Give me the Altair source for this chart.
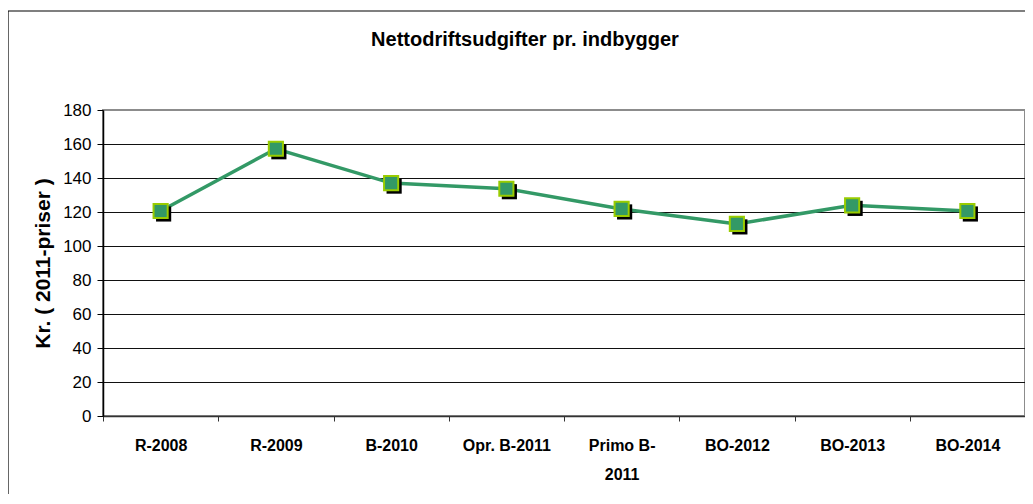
import altair as alt
import pandas as pd

categories = ["R-2008", "R-2009", "B-2010", "Opr. B-2011", "Primo B-2011", "BO-2012", "BO-2013", "BO-2014"]
values = [120.6, 157.2, 137.0, 133.7, 121.8, 113.0, 123.9, 120.6]
y_ticks = [0, 20, 40, 60, 80, 100, 120, 140, 160, 180]
title_text = "Nettodriftsudgifter pr. indbygger"
y_title = "Kr. ( 2011-priser )"

df = pd.DataFrame({"cat": categories, "val": values})

W, H = 922, 306
FONT = "Liberation Sans"

x_enc = alt.X("cat:N", sort=categories, title=None,
              scale=alt.Scale(paddingInner=0, paddingOuter=0),
              axis=alt.Axis(labelAngle=0, labelFontSize=16, labelFontWeight="bold",
                            labelColor="black", labelFont=FONT, labelPadding=16,
                            labelLineHeight=29, labelBaseline="top",
                            labelExpr="datum.label == 'Primo B-2011' ? ['Primo B-', '2011'] : datum.label",
                            tickBand="extent", tickSize=5, tickColor="#333333",
                            domainColor="#333333", domainWidth=1.5, grid=False))
y_enc = alt.Y("val:Q", title=y_title,
              scale=alt.Scale(domain=[0, 180], nice=False, zero=True),
              axis=alt.Axis(values=y_ticks, labelFontSize=17, labelColor="black", labelFont=FONT,
                            labelPadding=6, tickSize=6, tickColor="black",
                            domainColor="black", domainWidth=1.5,
                            gridColor={"condition": {"test": "datum.value == 180", "value": "#8c8c8c"},
                                       "value": "#111111"},
                            gridWidth=1,
                            titleFontSize=21, titleFontWeight="bold", titleFont=FONT,
                            titleColor="black", titlePadding=9))

base = alt.Chart(df).encode(x=x_enc, y=y_enc)

line = base.mark_line(color="#339966", strokeWidth=3.5)
shadow = base.mark_point(shape="square", filled=True, color="black", size=230,
                         opacity=1, xOffset=3, yOffset=3)
marker = base.mark_point(shape="square", filled=True, fill="#339966", stroke="#99CC00",
                         strokeWidth=2, size=200, opacity=1)

one = alt.Data(values=[{"t": title_text}])
frame = alt.Chart(one).mark_rect(fillOpacity=0, stroke="black", strokeWidth=1.2).encode(
    x=alt.value(-95), x2=alt.value(W + 60), y=alt.value(-99), y2=alt.value(H + 200))
title = alt.Chart(one).mark_text(fontSize=20, fontWeight="bold", font=FONT, color="black",
                                 align="center", baseline="middle").encode(
    x=alt.value(422), y=alt.value(-70), text="t:N")

chart = alt.layer(frame, title, line, shadow, marker).properties(
    width=W, height=H,
    autosize=alt.AutoSizeParams(type="none"),
    padding={"left": 95, "top": 102, "right": 0, "bottom": 78},
    background="white",
).configure_view(stroke="#8c8c8c", strokeWidth=2)

chart.save("out.html", embed_options={"renderer": "svg", "actions": False})
